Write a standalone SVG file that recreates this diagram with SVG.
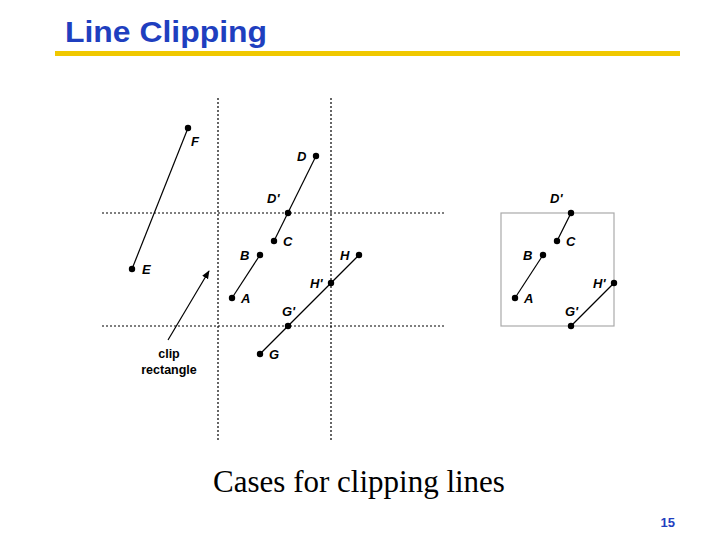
<svg xmlns="http://www.w3.org/2000/svg" width="720" height="540" viewBox="0 0 720 540">
<style>
.d{stroke:#000;stroke-width:1.2;stroke-dasharray:2 2;fill:none}
.l{stroke:#000;stroke-width:1.2;fill:none}
.p{fill:#000}
.t{font-family:"Liberation Sans",Arial,sans-serif;font-weight:bold;font-style:italic;font-size:13px;fill:#000}
</style>
<defs><marker id="ah" viewBox="0 0 10 10" refX="9" refY="5" markerWidth="7" markerHeight="7" orient="auto"><path d="M0,1 L10,5 L0,9 z" fill="#000"/></marker></defs>
<rect width="720" height="540" fill="#fff"/>
<text x="65" y="42" font-family="Liberation Sans,Arial,sans-serif" font-weight="bold" font-size="29" fill="#1f3fbf" textLength="202" lengthAdjust="spacingAndGlyphs">Line Clipping</text>
<rect x="55" y="51" width="625" height="5" fill="#f0c800"/>
<g id="grid">
<line class="d" x1="218" y1="98" x2="218" y2="440"/>
<line class="d" x1="331" y1="98" x2="331" y2="440"/>
<line class="d" x1="102" y1="213" x2="445" y2="213"/>
<line class="d" x1="102" y1="326" x2="445" y2="326"/>
</g>
<rect id="cliprect" x="501" y="213" width="113" height="113" fill="none" stroke="#aaa" stroke-width="1.2"/>
<g id="connectors">
<line class="l" x1="188" y1="128" x2="132" y2="269"/>
<line class="l" x1="316" y1="156" x2="274" y2="241"/>
<line class="l" x1="260" y1="255" x2="232" y2="298"/>
<line class="l" x1="359" y1="255" x2="260" y2="354"/>
<line class="l" x1="168" y1="340" x2="209" y2="271" marker-end="url(#ah)"/>
<line class="l" x1="571" y1="213" x2="557" y2="241"/>
<line class="l" x1="543" y1="255" x2="515" y2="298"/>
<line class="l" x1="614" y1="283" x2="571" y2="326"/>
</g>
<g id="points">
<circle class="p" cx="188" cy="128" r="3.2"/><circle class="p" cx="132" cy="269" r="3.2"/>
<circle class="p" cx="316" cy="156" r="3.2"/><circle class="p" cx="288" cy="213" r="3.2"/>
<circle class="p" cx="274" cy="241" r="3.2"/><circle class="p" cx="260" cy="255" r="3.2"/>
<circle class="p" cx="232" cy="298" r="3.2"/><circle class="p" cx="359" cy="255" r="3.2"/>
<circle class="p" cx="331" cy="283" r="3.2"/><circle class="p" cx="288" cy="326" r="3.2"/>
<circle class="p" cx="260" cy="354" r="3.2"/>
<circle class="p" cx="571" cy="213" r="3.2"/><circle class="p" cx="557" cy="241" r="3.2"/>
<circle class="p" cx="543" cy="255" r="3.2"/><circle class="p" cx="515" cy="298" r="3.2"/>
<circle class="p" cx="614" cy="283" r="3.2"/><circle class="p" cx="571" cy="326" r="3.2"/>
</g>
<g id="labels">
<text class="t" x="191" y="146">F</text>
<text class="t" x="142" y="274">E</text>
<text class="t" x="297" y="161">D</text>
<text class="t" x="267" y="203">D'</text>
<text class="t" x="283" y="246">C</text>
<text class="t" x="240" y="260">B</text>
<text class="t" x="241" y="303">A</text>
<text class="t" x="340" y="260">H</text>
<text class="t" x="310" y="288">H'</text>
<text class="t" x="282" y="316">G'</text>
<text class="t" x="269" y="359">G</text>
<text class="t" x="550" y="203">D'</text>
<text class="t" x="566" y="246">C</text>
<text class="t" x="523" y="260">B</text>
<text class="t" x="524" y="303">A</text>
<text class="t" x="593" y="288">H'</text>
<text class="t" x="565" y="316">G'</text>
<text x="169" y="358" text-anchor="middle" font-family="Liberation Sans,Arial,sans-serif" font-weight="bold" font-size="12.5">clip</text>
<text x="169" y="374" text-anchor="middle" font-family="Liberation Sans,Arial,sans-serif" font-weight="bold" font-size="12.5">rectangle</text>
</g>
<text x="359" y="492" text-anchor="middle" font-family="Liberation Serif,Times New Roman,serif" font-size="31">Cases for clipping lines</text>
<text x="675" y="527" text-anchor="end" font-family="Liberation Sans,Arial,sans-serif" font-weight="bold" font-size="13" fill="#1f3fbf">15</text>
</svg>
